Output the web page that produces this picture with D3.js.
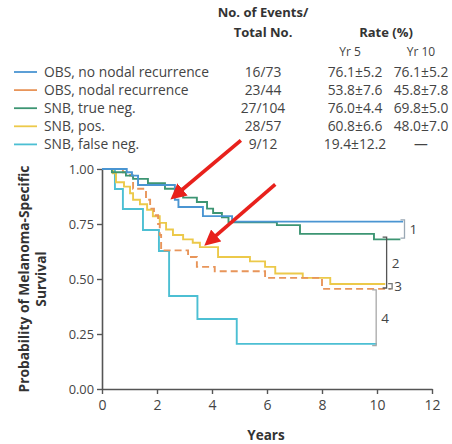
<!DOCTYPE html>
<html>
<head>
<meta charset="utf-8">
<script src="https://cdn.jsdelivr.net/npm/d3@7"></script>
<style>
  html, body { margin: 0; padding: 0; background: #fff; }
  svg { display: block; font-family: "Open Sans", "Noto Sans", sans-serif; }
</style>
</head>
<body>
<svg id="chart" width="452" height="444"></svg>
<script>
// ---- data ----
const seriesNames = ["OBS, no nodal recurrence", "OBS, nodal recurrence", "SNB, true neg.", "SNB, pos.", "SNB, false neg."];
const seriesColors = ["#4a95d2", "#e8955a", "#3d9573", "#ecc94a", "#4cbfd3"];
const seriesDashed = [false, true, false, false, false];
const eventsTotal = ["16/73", "23/44", "27/104", "28/57", "9/12"];
const rateYr5 = ["76.1\u00b15.2", "53.8\u00b17.6", "76.0\u00b14.4", "60.8\u00b16.6", "19.4\u00b112.2"];
const rateYr10 = ["76.1\u00b15.2", "45.8\u00b17.8", "69.8\u00b15.0", "48.0\u00b17.0", "\u2014"];

// Kaplan-Meier steps: [years, survival]
const obsNoNodal = [[0,1],[0.9,0.985],[1.09,0.97],[1.31,0.927],[2.65,0.86],[2.78,0.827],[3.67,0.786],[4.73,0.761],[10.95,0.761]];
const obsNodal = [[0,1],[0.76,0.985],[1.02,0.97],[1.13,0.91],[1.6,0.86],[1.75,0.82],[1.89,0.79],[2.04,0.75],[2.1,0.70],[2.15,0.63],[3.13,0.60],[3.45,0.555],[4.1,0.535],[5.93,0.505],[8.0,0.455],[10.5,0.455]];
const snbTrueNeg = [[0,1],[0.36,0.985],[0.87,0.97],[1.13,0.955],[1.67,0.935],[2.29,0.91],[2.95,0.87],[3.45,0.85],[3.82,0.82],[4.04,0.80],[4.36,0.78],[4.6,0.758],[6.36,0.745],[7.2,0.705],[9.89,0.68],[10.85,0.68]];
const snbPos = [[0,1],[0.4,0.98],[0.51,0.94],[0.8,0.92],[1.02,0.89],[1.13,0.86],[1.38,0.84],[1.64,0.815],[1.85,0.785],[2.1,0.755],[2.33,0.725],[2.58,0.70],[2.95,0.68],[3.3,0.665],[3.56,0.645],[4.22,0.60],[5.38,0.58],[5.93,0.555],[6.3,0.525],[7.3,0.505],[8.3,0.477],[10.3,0.477]];
const snbFalseNeg = [[0,1],[0.47,0.909],[0.76,0.818],[1.49,0.723],[2.07,0.627],[2.44,0.423],[3.47,0.318],[4.9,0.205],[10.0,0.205]];
const allSeries = [obsNoNodal, obsNodal, snbTrueNeg, snbPos, snbFalseNeg];

const xTicks = [0, 2, 4, 6, 8, 10, 12];
const yTicks = [0, 0.25, 0.5, 0.75, 1.0];

// comparison brackets: [label, years, surv top, surv bottom]
const brackets = [["1", 11.0, 0.769, 0.686], ["2", 10.35, 0.690, 0.459], ["3", 10.55, 0.479, 0.455], ["4", 9.97, 0.451, 0.197]];
const bracketColors = ["#9aa8b4", "#555555", "#777777", "#a8a8a8"];
// red arrows: [from year, from surv, to year, to surv]
const arrows = [[5.05, 1.13, 2.62, 0.875], [6.3, 0.93, 3.85, 0.665]];

// ---- layout ----
const svg = d3.select("#chart");
const x = d3.scaleLinear().domain([0, 12]).range([102, 432]);
const y = d3.scaleLinear().domain([0, 1]).range([389, 169]);
const axisColor = "#555";

// axes
const gx = svg.append("g").attr("transform", `translate(0,${y(0)})`)
  .call(d3.axisBottom(x).tickValues(xTicks).tickSize(5).tickSizeOuter(0).tickPadding(6));
const gy = svg.append("g").attr("transform", `translate(${x(0)},0)`)
  .call(d3.axisLeft(y).tickValues(yTicks).tickFormat(d3.format(".2f")).tickSize(5).tickSizeOuter(0).tickPadding(3));
[gx, gy].forEach(g => {
  g.select(".domain").attr("stroke", axisColor).attr("stroke-width", 1.6);
  g.selectAll(".tick line").attr("stroke", axisColor).attr("stroke-width", 1.4);
  g.selectAll(".tick text").attr("fill", "#444").style("font-family", "'Open Sans', sans-serif");
});
gx.selectAll(".tick text").style("font-size", "14px");
gy.selectAll(".tick text").style("font-size", "12.8px");

// axis titles
svg.append("text").attr("x", 266).attr("y", 440).attr("text-anchor", "middle")
  .attr("font-weight", "bold").attr("font-size", 13.5).attr("fill", "#333").text("Years");
const yt = svg.append("text").attr("transform", `translate(29,${(y(0) + y(1)) / 2}) rotate(-90)`)
  .attr("text-anchor", "middle").attr("font-weight", "bold").attr("font-size", 13.8).attr("fill", "#333");
yt.append("tspan").attr("x", 0).attr("dy", 0).text("Probability of Melanoma-Specific");
yt.append("tspan").attr("x", 0).attr("dy", 16.5).text("Survival");

// curves
const line = d3.line().x(d => x(d[0])).y(d => y(d[1])).curve(d3.curveStepAfter);
const order = [4, 3, 1, 2, 0];
order.forEach(i => {
  svg.append("path").datum(allSeries[i]).attr("d", line)
    .attr("fill", "none").attr("stroke", seriesColors[i]).attr("stroke-width", 1.9)
    .attr("stroke-dasharray", seriesDashed[i] ? "7,4" : null);
});

// brackets
brackets.forEach((b, i) => {
  const bx = x(b[1]), t = y(b[2]), bt = y(b[3]);
  svg.append("path").attr("d", `M${bx - 4},${t}H${bx}V${bt}H${bx - 4}`)
    .attr("fill", "none").attr("stroke", bracketColors[i]).attr("stroke-width", 1.3);
  svg.append("text").attr("x", bx + (i === 2 ? 2 : 5)).attr("y", (t + bt) / 2 + 5)
    .attr("font-size", 13.5).attr("fill", "#444").text(b[0]);
});

// legend header
const hdr = svg.append("g").attr("font-weight", "bold").attr("font-size", 13).attr("fill", "#333");
hdr.append("text").attr("x", 263).attr("y", 17).attr("text-anchor", "middle").text("No. of Events/");
hdr.append("text").attr("x", 263).attr("y", 37).attr("text-anchor", "middle").text("Total No.");
hdr.append("text").attr("x", 386).attr("y", 37).attr("text-anchor", "middle").text("Rate (%)");
svg.append("text").attr("x", 350).attr("y", 56).attr("text-anchor", "middle").attr("font-size", 12).attr("fill", "#444").text("Yr 5");
svg.append("text").attr("x", 421).attr("y", 56).attr("text-anchor", "middle").attr("font-size", 12).attr("fill", "#444").text("Yr 10");

seriesNames.forEach((name, i) => {
  const ry = 72 + i * 18.1;
  svg.append("line").attr("x1", 14).attr("x2", 37).attr("y1", ry).attr("y2", ry)
    .attr("stroke", seriesColors[i]).attr("stroke-width", 1.8);
  const txt = svg.append("g").attr("font-size", 13.8).attr("fill", "#444");
  txt.append("text").attr("x", 44).attr("y", ry + 5).text(name);
  txt.append("text").attr("x", 263).attr("y", ry + 5).attr("text-anchor", "middle").text(eventsTotal[i]);
  txt.append("text").attr("x", 355).attr("y", ry + 5).attr("text-anchor", "middle").text(rateYr5[i]);
  txt.append("text").attr("x", 421).attr("y", ry + 5).attr("text-anchor", "middle").text(rateYr10[i]);
});

// red arrows
svg.append("defs").append("marker").attr("id", "ah").attr("viewBox", "0 0 10 10")
  .attr("refX", 7).attr("refY", 5).attr("markerWidth", 4.4).attr("markerHeight", 4.4)
  .attr("orient", "auto").append("path").attr("d", "M0,0L10,5L0,10Z").attr("fill", "#e8211c");
arrows.forEach(a => {
  svg.append("line").attr("x1", x(a[0])).attr("y1", y(a[1])).attr("x2", x(a[2])).attr("y2", y(a[3]))
    .attr("stroke", "#e8211c").attr("stroke-width", 3.6).attr("marker-end", "url(#ah)");
});
</script>
</body>
</html>
